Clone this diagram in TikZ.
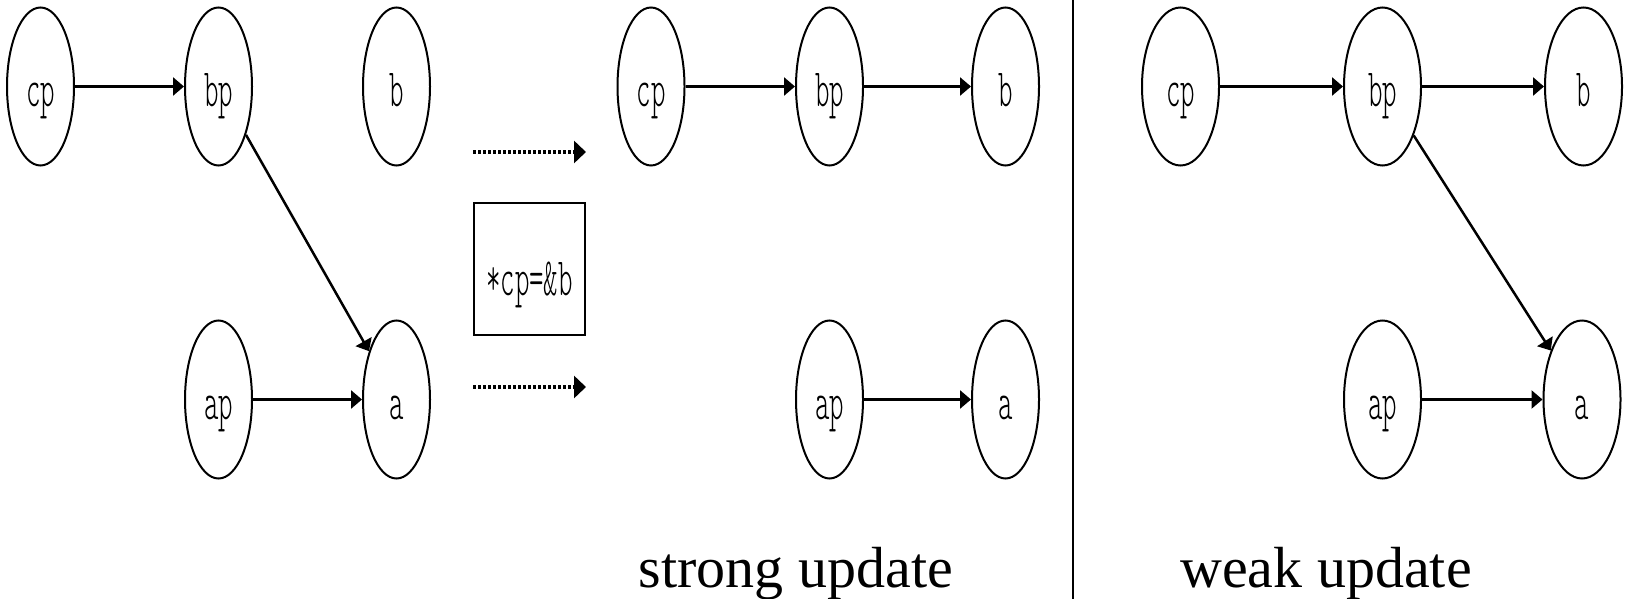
\documentclass[tikz,border=0pt]{standalone}
\usepackage{fontspec}
\usetikzlibrary{shapes.geometric,arrows.meta}
\setmainfont{Liberation Serif}
\newfontfamily\nodefont{lmmonolt10-regular.otf}
\newcommand{\nodetext}[1]{\scalebox{0.51}[1]{\nodefont\fontsize{27}{30}\selectfont #1}}
\tikzset{
  var/.style={draw, line width=1pt, ellipse, inner sep=0pt,
              text height=21.5pt, text depth=2pt,
              minimum width=33.5pt, minimum height=79pt},
  widevar/.style={var, minimum width=38.5pt},
  pointsto/.style={line width=1.25pt, -{Triangle[length=5.5pt,width=9pt]}},
  transfer/.style={line width=2.3pt, dash pattern=on 1.5pt off 1pt,
                   -{Triangle[length=6pt,width=11pt]}},
  stmt/.style={draw, line width=1pt, rectangle, inner sep=0pt,
               text height=28pt, text depth=2pt,
               minimum width=55.5pt, minimum height=66pt},
  caption/.style={anchor=base, inner sep=0pt, font=\fontsize{29}{33}\selectfont}
}
\begin{document}
\begin{tikzpicture}[x=0.5pt, y=-0.5pt]
\useasboundingbox (0,0) rectangle (1626,599);

% before the store
\node[var] (Lcp) at (40.5,86.5)   {\nodetext{cp}};
\node[var] (Lbp) at (218.5,86.5)  {\nodetext{bp}};
\node[var] (Lb)  at (396.5,86.5)  {\nodetext{b}};
\node[var] (Lap) at (218.5,399.5) {\nodetext{ap}};
\node[var] (La)  at (396.5,399.5) {\nodetext{a}};
\draw[pointsto] (Lcp) -- (Lbp);
\draw[pointsto] (Lbp) -- (La);
\draw[pointsto] (Lap) -- (La);

% the store statement
\node[stmt] (S) at (529.5,269) {\nodetext{*cp=\&b}};
\coordinate (T1s) at (473,152);
\coordinate (T1e) at (586,152);
\coordinate (T2s) at (473,387);
\coordinate (T2e) at (586,387);
\draw[transfer] (T1s) -- (T1e);
\draw[transfer] (T2s) -- (T2e);

% strong update
\node[var] (Mcp) at (651,86.5)    {\nodetext{cp}};
\node[var] (Mbp) at (829.5,86.5)  {\nodetext{bp}};
\node[var] (Mb)  at (1005.5,86.5) {\nodetext{b}};
\node[var] (Map) at (829.5,399.5) {\nodetext{ap}};
\node[var] (Ma)  at (1005.5,399.5){\nodetext{a}};
\draw[pointsto] (Mcp) -- (Mbp);
\draw[pointsto] (Mbp) -- (Mb);
\draw[pointsto] (Map) -- (Ma);
\node[caption] (Mcap) at (796,587) {strong update};

% separator
\coordinate (Vt) at (1073,0);
\coordinate (Vb) at (1073,599);
\draw[line width=0.9pt] (Vt) -- (Vb);

% weak update
\node[widevar] (Rcp) at (1180.5,86.5) {\nodetext{cp}};
\node[widevar] (Rbp) at (1382.5,86.5) {\nodetext{bp}};
\node[widevar] (Rb)  at (1583.5,86.5) {\nodetext{b}};
\node[widevar] (Rap) at (1382.5,399.5){\nodetext{ap}};
\node[widevar] (Ra)  at (1582,399.5)  {\nodetext{a}};
\draw[pointsto] (Rcp) -- (Rbp);
\draw[pointsto] (Rbp) -- (Rb);
\draw[pointsto] (Rbp) -- (Ra);
\draw[pointsto] (Rap) -- (Ra);
\node[caption] (Rcap) at (1326,587) {weak update};
\end{tikzpicture}
\end{document}
